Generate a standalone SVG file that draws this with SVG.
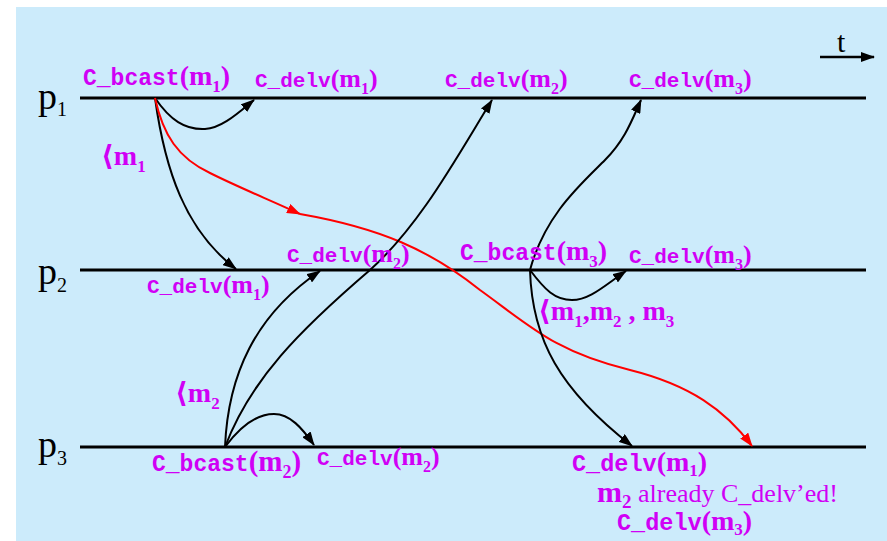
<svg xmlns="http://www.w3.org/2000/svg" width="887" height="541" viewBox="0 0 887 541">
<style>
.lbl{fill:#D000F5}
.mono{font-family:"Liberation Mono","Courier New",monospace;font-weight:bold}
.ser{font-family:"Liberation Serif","DejaVu Serif",serif;font-weight:bold}
.reg{font-family:"Liberation Serif","DejaVu Serif",serif;font-weight:normal}
.pl{font-family:"Liberation Serif",serif;fill:#000}
.axis{stroke:#000;stroke-width:3;fill:none}
.msg{stroke:#000;stroke-width:2;fill:none;marker-end:url(#ab)}
.red{stroke:#FF0000;stroke-width:2;fill:none;marker-end:url(#ar)}
</style>
<defs>
<marker id="ab" viewBox="0 0 14 10" refX="13" refY="5" markerWidth="14" markerHeight="10" markerUnits="userSpaceOnUse" orient="auto"><path d="M0,0 L14,5 L0,10 z" fill="#000"/></marker>
<marker id="ar" viewBox="0 0 14 10" refX="13" refY="5" markerWidth="14" markerHeight="10" markerUnits="userSpaceOnUse" orient="auto"><path d="M0,0 L14,5 L0,10 z" fill="#FF0000"/></marker>
</defs>
<rect x="0" y="0" width="887" height="541" fill="#FFFFFF"/>
<rect x="16" y="7" width="871" height="534" fill="#CCEBFB"/>

<g id="time">
<line x1="820" y1="57" x2="874" y2="57" class="axis" style="stroke-width:2.5;marker-end:url(#ab)"/>
<text x="837" y="52" class="pl" font-size="30">t</text>
</g>

<g id="p1">
<line x1="80" y1="98" x2="866" y2="98" class="axis"/>
<text x="38" y="109" class="pl" font-size="38">p<tspan font-size="20" dy="7">1</tspan></text>
</g>
<g id="p2">
<line x1="80" y1="270" x2="866" y2="270" class="axis"/>
<text x="38" y="284" class="pl" font-size="38">p<tspan font-size="20" dy="8">2</tspan></text>
</g>
<g id="p3">
<line x1="80" y1="447" x2="866" y2="447" class="axis"/>
<text x="38" y="457" class="pl" font-size="38">p<tspan font-size="20" dy="8">3</tspan></text>
</g>

<g id="connectors">
<path class="msg" d="M155,98 C170,120 185,130 205,129 C222,128 238,113 254,100"/>
<path class="msg" d="M155,98 C165,170 185,230 236,269"/>
<path class="red" d="M155,98 C163,135 178,158 210,173 C240,188 270,200 300,214"/>
<path class="red" d="M300,214 C380,228 430,250 480,290 C530,326 555,352 630,370 C690,385 725,410 752,446"/>
<path class="msg" d="M530,270 C545,290 555,300 572,300 C590,300 605,285 626,271"/>
<path class="msg" d="M530,270 C545,215 580,185 605,160 C625,140 632,120 641,100"/>
<path class="msg" d="M530,270 C532,340 560,390 632,446"/>
<path class="msg" d="M225,447 C245,420 262,414 274,414 C290,414 302,428 314,445"/>
<path class="msg" d="M225,447 C228,375 255,315 320,271"/>
<path class="msg" d="M225,447 C250,380 300,330 370,270 C420,225 455,160 492,100"/>
</g>

<g id="labels">
<text x="83" y="85" class="lbl"><tspan class="mono" font-size="23">C_bcast</tspan><tspan class="ser" font-size="28">(m</tspan><tspan class="ser" font-size="17" dy="7">1</tspan><tspan class="ser" font-size="28" dy="-7">)</tspan></text>
<text x="255" y="87" class="lbl"><tspan class="mono" font-size="21">C_delv</tspan><tspan class="ser" font-size="26">(m</tspan><tspan class="ser" font-size="16" dy="7">1</tspan><tspan class="ser" font-size="26" dy="-7">)</tspan></text>
<text x="445" y="87" class="lbl"><tspan class="mono" font-size="21">C_delv</tspan><tspan class="ser" font-size="26">(m</tspan><tspan class="ser" font-size="16" dy="7">2</tspan><tspan class="ser" font-size="26" dy="-7">)</tspan></text>
<text x="629" y="87" class="lbl"><tspan class="mono" font-size="21">C_delv</tspan><tspan class="ser" font-size="26">(m</tspan><tspan class="ser" font-size="16" dy="7">3</tspan><tspan class="ser" font-size="26" dy="-7">)</tspan></text>
<text x="101" y="165" class="lbl ser" font-size="28">⟨m<tspan font-size="17" dy="7">1</tspan></text>
<text x="287" y="262" class="lbl"><tspan class="mono" font-size="21">C_delv</tspan><tspan class="ser" font-size="26">(m</tspan><tspan class="ser" font-size="16" dy="7">2</tspan><tspan class="ser" font-size="26" dy="-7">)</tspan></text>
<text x="147" y="293" class="lbl"><tspan class="mono" font-size="21">C_delv</tspan><tspan class="ser" font-size="26">(m</tspan><tspan class="ser" font-size="16" dy="7">1</tspan><tspan class="ser" font-size="26" dy="-7">)</tspan></text>
<text x="460" y="260" class="lbl"><tspan class="mono" font-size="23">C_bcast</tspan><tspan class="ser" font-size="28">(m</tspan><tspan class="ser" font-size="17" dy="7">3</tspan><tspan class="ser" font-size="28" dy="-7">)</tspan></text>
<text x="629" y="263" class="lbl"><tspan class="mono" font-size="21">C_delv</tspan><tspan class="ser" font-size="26">(m</tspan><tspan class="ser" font-size="16" dy="7">3</tspan><tspan class="ser" font-size="26" dy="-7">)</tspan></text>
<text x="538" y="320" class="lbl ser" font-size="28">⟨m<tspan font-size="17" dy="7">1</tspan><tspan dy="-7">,m</tspan><tspan font-size="17" dy="7">2</tspan><tspan dy="-7"> , m</tspan><tspan font-size="17" dy="7">3</tspan></text>
<text x="175" y="402" class="lbl ser" font-size="28">⟨m<tspan font-size="17" dy="7">2</tspan></text>
<text x="152" y="471" class="lbl"><tspan class="mono" font-size="23">C_bcast</tspan><tspan class="ser" font-size="29">(m</tspan><tspan class="ser" font-size="18" dy="7">2</tspan><tspan class="ser" font-size="29" dy="-7">)</tspan></text>
<text x="317" y="465" class="lbl"><tspan class="mono" font-size="21">C_delv</tspan><tspan class="ser" font-size="26">(m</tspan><tspan class="ser" font-size="16" dy="7">2</tspan><tspan class="ser" font-size="26" dy="-7">)</tspan></text>
<text x="572" y="471" class="lbl"><tspan class="mono" font-size="23.5">C_delv</tspan><tspan class="ser" font-size="28">(m</tspan><tspan class="ser" font-size="17" dy="5">1</tspan><tspan class="ser" font-size="28" dy="-5">)</tspan></text>
<text x="597" y="502" class="lbl"><tspan class="ser" font-size="30">m</tspan><tspan class="ser" font-size="19" dy="6">2</tspan><tspan class="reg" font-size="26" dy="-6"> already C_delv’ed!</tspan></text>
<text x="617" y="530" class="lbl"><tspan class="mono" font-size="23.5">C_delv</tspan><tspan class="ser" font-size="28">(m</tspan><tspan class="ser" font-size="17" dy="5">3</tspan><tspan class="ser" font-size="28" dy="-5">)</tspan></text>
</g>
</svg>
